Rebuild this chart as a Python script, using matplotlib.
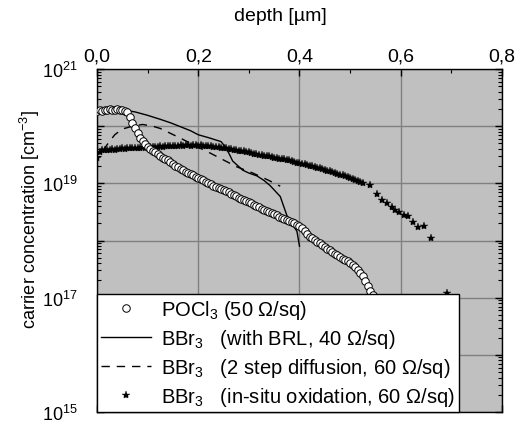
import matplotlib
matplotlib.use("Agg")
import matplotlib.pyplot as plt
from matplotlib.ticker import FixedLocator, FuncFormatter, LogLocator, MultipleLocator, NullFormatter
import numpy as np

plt.rcParams['font.family'] = ['Liberation Sans', 'DejaVu Sans']
plt.rcParams['mathtext.fontset'] = 'custom'
plt.rcParams['mathtext.rm'] = 'Liberation Sans'
plt.rcParams['mathtext.it'] = 'Liberation Sans'

# POCl3 (circles): depth [um], log10 concentration
pocl_x = [0.000, 0.005, 0.010, 0.015, 0.020, 0.025, 0.030, 0.035, 0.040, 0.045,
          0.050, 0.055, 0.060, 0.065, 0.070, 0.075, 0.080, 0.085, 0.090, 0.095,
          0.100, 0.105, 0.110, 0.115, 0.120, 0.125, 0.130, 0.135, 0.140, 0.145,
          0.150, 0.155, 0.160, 0.165, 0.170, 0.175, 0.180, 0.185, 0.190, 0.195,
          0.200, 0.205, 0.210, 0.215, 0.220, 0.225, 0.230, 0.235, 0.240, 0.245,
          0.250, 0.255, 0.260, 0.265, 0.270, 0.275, 0.280, 0.285, 0.290, 0.295,
          0.300, 0.305, 0.310, 0.315, 0.320, 0.325, 0.330, 0.335, 0.340, 0.345,
          0.350, 0.355, 0.360, 0.365, 0.370, 0.375, 0.380, 0.385, 0.390, 0.395,
          0.400, 0.405, 0.410, 0.415, 0.420, 0.425, 0.430, 0.435, 0.440, 0.445,
          0.450, 0.455, 0.460, 0.465, 0.470, 0.475, 0.480, 0.485, 0.490, 0.495,
          0.500, 0.505, 0.510, 0.515, 0.520, 0.525, 0.530, 0.535, 0.540, 0.545,
          0.550, 0.555]
pocl_log = [20.27, 20.28, 20.27, 20.29, 20.28, 20.30, 20.29, 20.28, 20.30, 20.29,
            20.28, 20.27, 20.24, 20.16, 20.05, 19.96, 19.88, 19.80, 19.74, 19.68,
            19.63, 19.60, 19.57, 19.54, 19.51, 19.48, 19.45, 19.42, 19.40, 19.37,
            19.34, 19.31, 19.28, 19.25, 19.23, 19.20, 19.18, 19.16, 19.14, 19.11,
            19.09, 19.07, 19.05, 19.02, 19.00, 18.98, 18.96, 18.94, 18.92, 18.90,
            18.88, 18.86, 18.84, 18.81, 18.79, 18.77, 18.75, 18.73, 18.71, 18.69,
            18.67, 18.65, 18.62, 18.60, 18.58, 18.56, 18.54, 18.52, 18.50, 18.48,
            18.46, 18.44, 18.42, 18.40, 18.38, 18.36, 18.35, 18.33, 18.30, 18.28,
            18.26, 18.22, 18.16, 18.11, 18.07, 18.04, 18.01, 17.98, 17.95, 17.92,
            17.89, 17.86, 17.83, 17.80, 17.77, 17.74, 17.71, 17.68, 17.66, 17.64,
            17.61, 17.57, 17.53, 17.48, 17.43, 17.38, 17.30, 17.20, 17.12, 17.05,
            16.98, 16.90]

# BBr3 with BRL (solid line)
brl_x = [0.000, 0.030, 0.060, 0.075, 0.100, 0.125, 0.145, 0.165, 0.185, 0.200,
         0.220, 0.245, 0.255, 0.262, 0.268, 0.288, 0.300, 0.316, 0.330, 0.342,
         0.362, 0.375, 0.385, 0.395, 0.400]
brl_log = [20.27, 20.28, 20.27, 20.25, 20.19, 20.12, 20.06, 19.99, 19.92, 19.85,
           19.80, 19.73, 19.62, 19.50, 19.39, 19.23, 19.18, 19.13, 19.05, 18.96,
           18.77, 18.44, 18.30, 18.16, 17.90]

# BBr3 two step diffusion (dashed line)
two_x = [0.012, 0.022, 0.035, 0.050, 0.070, 0.090, 0.110, 0.125, 0.165, 0.200,
         0.217, 0.243, 0.276, 0.308, 0.330, 0.342, 0.362]
two_log = [19.58, 19.70, 19.85, 19.95, 20.00, 20.03, 20.00, 19.96, 19.79, 19.63,
           19.56, 19.44, 19.29, 19.18, 19.09, 19.04, 18.95]

# BBr3 in-situ oxidation (stars)
ox_x = [0.000, 0.005, 0.010, 0.015, 0.020, 0.025, 0.030, 0.035, 0.040, 0.045,
        0.050, 0.055, 0.060, 0.065, 0.070, 0.075, 0.080, 0.085, 0.090, 0.095,
        0.100, 0.105, 0.110, 0.115, 0.120, 0.125, 0.130, 0.135, 0.140, 0.145,
        0.150, 0.155, 0.160, 0.165, 0.170, 0.175, 0.180, 0.185, 0.190, 0.195,
        0.200, 0.205, 0.210, 0.215, 0.220, 0.225, 0.230, 0.235, 0.240, 0.245,
        0.250, 0.255, 0.260, 0.265, 0.270, 0.275, 0.280, 0.285, 0.290, 0.295,
        0.300, 0.305, 0.310, 0.315, 0.320, 0.325, 0.330, 0.335, 0.340, 0.345,
        0.350, 0.355, 0.360, 0.365, 0.370, 0.375, 0.380, 0.385, 0.390, 0.395,
        0.400, 0.405, 0.410, 0.415, 0.420, 0.425, 0.430, 0.435, 0.440, 0.445,
        0.450, 0.455, 0.460, 0.465, 0.470, 0.475, 0.480, 0.485, 0.490, 0.495,
        0.500, 0.505, 0.510, 0.515, 0.520, 0.525,
        0.539, 0.553, 0.563, 0.573, 0.583, 0.589, 0.597, 0.606, 0.614, 0.624,
        0.634, 0.646, 0.660, 0.691]
ox_log = [19.45, 19.55, 19.58, 19.58, 19.59, 19.59, 19.60, 19.59, 19.60, 19.60,
          19.61, 19.60, 19.61, 19.61, 19.62, 19.61, 19.62, 19.62, 19.63, 19.62,
          19.63, 19.64, 19.63, 19.64, 19.64, 19.65, 19.64, 19.65, 19.65, 19.66,
          19.65, 19.66, 19.66, 19.67, 19.66, 19.67, 19.67, 19.66, 19.67, 19.67,
          19.66, 19.67, 19.66, 19.66, 19.65, 19.65, 19.64, 19.64, 19.63, 19.62,
          19.62, 19.61, 19.60, 19.60, 19.59, 19.58, 19.57, 19.57, 19.56, 19.55,
          19.54, 19.53, 19.52, 19.51, 19.50, 19.49, 19.48, 19.47, 19.47, 19.46,
          19.45, 19.44, 19.43, 19.42, 19.42, 19.41, 19.40, 19.39, 19.38, 19.36,
          19.35, 19.34, 19.33, 19.32, 19.31, 19.30, 19.28, 19.27, 19.26, 19.25,
          19.23, 19.22, 19.21, 19.20, 19.18, 19.17, 19.15, 19.14, 19.12, 19.11,
          19.10, 19.08, 19.06, 19.04, 19.02, 19.00,
          18.97, 18.82, 18.71, 18.65, 18.59, 18.54, 18.50, 18.44, 18.43, 18.32,
          18.23, 18.26, 18.04, 17.09]

x_ticks = [0.0, 0.2, 0.4, 0.6, 0.8]
x_tick_labels = ['0,0', '0,2', '0,4', '0,6', '0,8']
labels = ['POCl$_3$ (50 \u03a9/sq)',
          'BBr$_3$   (with BRL, 40 \u03a9/sq)',
          'BBr$_3$   (2 step diffusion, 60 \u03a9/sq)',
          'BBr$_3$   (in-situ oxidation, 60 \u03a9/sq)']

fig = plt.figure(figsize=(5.23, 4.27), dpi=100)
ax = fig.add_axes([0.1855, 0.0328, 0.7743, 0.8032])
ax.set_facecolor('#c0c0c0')

def tolin(v):
    return [10 ** a for a in v]

h1, = ax.plot(pocl_x, tolin(pocl_log), 'o', ms=5.4, mfc='white', mec='black', mew=0.7, zorder=4)
h2, = ax.plot(brl_x, tolin(brl_log), '-', color='black', lw=1.0, zorder=3)
h3, = ax.plot(two_x, tolin(two_log), '--', color='black', lw=1.0, dashes=(6, 5), zorder=3)
h4, = ax.plot(ox_x, tolin(ox_log), '*', color='black', ms=6, mew=0.3, zorder=3)

ax.set_yscale('log')
ax.set_xlim(0, 0.8)
ax.set_ylim(1e15, 1e21)

ax.xaxis.tick_top()
ax.xaxis.set_label_position('top')
ax.set_xticks(x_ticks)
ax.set_xticklabels(x_tick_labels, fontsize=14)
ax.xaxis.set_minor_locator(MultipleLocator(0.1))
ax.set_xlabel('depth [\u00b5m]', fontsize=14)
ax.xaxis.set_label_coords(0.452, 1.143)

ax.yaxis.set_major_locator(FixedLocator([10.0 ** k for k in range(15, 22)]))
def yfmt(v, pos):
    e = int(round(np.log10(v)))
    return r'$\mathregular{10^{%d}}$' % e if e % 2 == 1 else ''
ax.yaxis.set_major_formatter(FuncFormatter(yfmt))
ax.yaxis.set_minor_locator(LogLocator(base=10, subs=np.arange(2, 10), numticks=20))
ax.yaxis.set_minor_formatter(NullFormatter())
ax.set_ylabel('carrier concentration [cm$^{-3}$]', fontsize=13)
ax.yaxis.set_label_coords(-0.136, 0.563)
ax.tick_params(axis='y', labelsize=13, pad=14)

ax.tick_params(which='both', direction='in', top=True, bottom=True, left=True, right=True, color='black')
ax.tick_params(which='major', length=5, width=1)
ax.tick_params(which='minor', length=3, width=0.8)
ax.tick_params(axis='x', which='major', pad=3)

ax.grid(True, which='major', color='#808080', lw=1.0)
ax.set_axisbelow(True)
for s in ax.spines.values():
    s.set_color('black')
    s.set_linewidth(1.0)

leg = ax.legend([h1, h2, h3, h4], labels, loc='lower left', bbox_to_anchor=(0, 0),
                borderaxespad=0, fancybox=False, framealpha=1, edgecolor='black',
                fontsize=14.5, handlelength=2.5, handletextpad=0.5, labelspacing=0.3,
                borderpad=0.2)
leg.get_frame().set_linewidth(1.0)
leg.set_zorder(10)

fig.savefig('out.png', dpi=100)
